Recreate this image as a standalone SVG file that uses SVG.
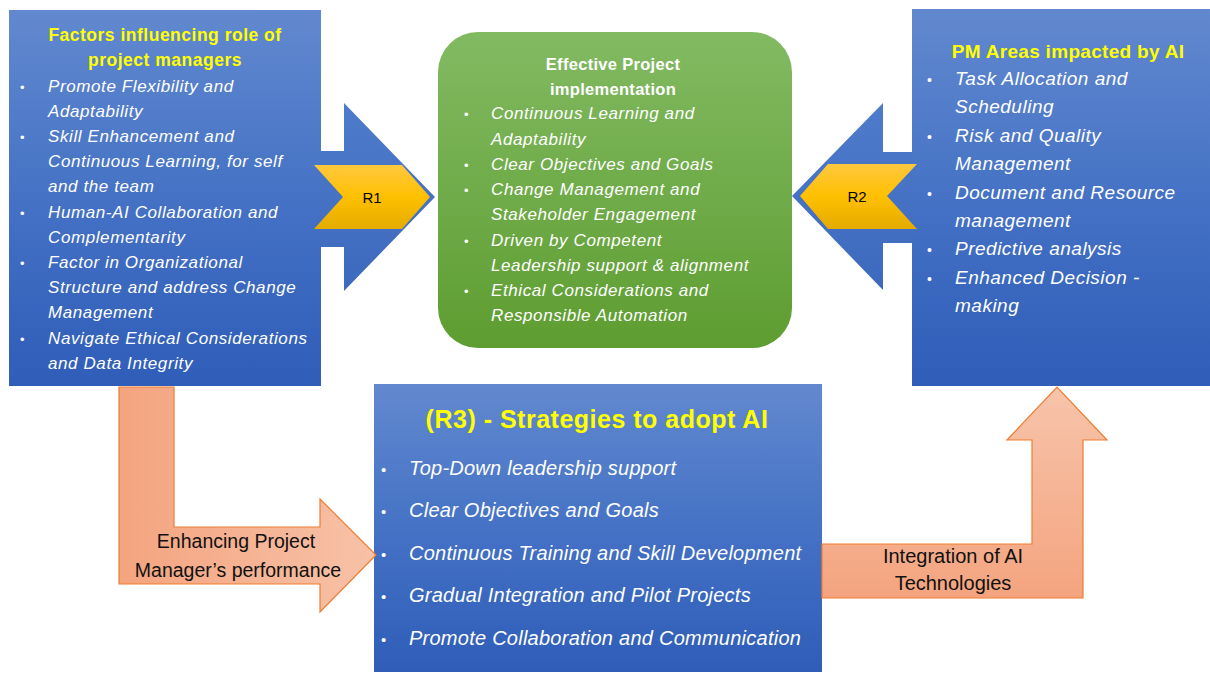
<svg xmlns="http://www.w3.org/2000/svg" width="1210" height="673" viewBox="0 0 1210 673">
<defs>
<linearGradient id="gBlue" x1="0" y1="0" x2="0" y2="1">
<stop offset="0" stop-color="#6289CF"/><stop offset="0.5" stop-color="#4572C5"/><stop offset="1" stop-color="#2F5DB8"/>
</linearGradient>
<linearGradient id="gArrowBlue" x1="0" y1="0" x2="0" y2="1">
<stop offset="0" stop-color="#4F7BCB"/><stop offset="1" stop-color="#3D69BE"/>
</linearGradient>
<linearGradient id="gGreen" x1="0" y1="0" x2="0" y2="1">
<stop offset="0" stop-color="#82BA62"/><stop offset="1" stop-color="#5E9D31"/>
</linearGradient>
<linearGradient id="gYellow" x1="0" y1="0" x2="0" y2="1">
<stop offset="0" stop-color="#FFC83F"/><stop offset="0.5" stop-color="#FFC000"/><stop offset="1" stop-color="#E4AB00"/>
</linearGradient>
<linearGradient id="gOrangeH" x1="0" y1="0" x2="1" y2="0">
<stop offset="0" stop-color="#F4A47F"/><stop offset="1" stop-color="#F7C2A8"/>
</linearGradient>
<linearGradient id="gOrangeV" x1="0" y1="1" x2="0" y2="0">
<stop offset="0" stop-color="#F4A47F"/><stop offset="1" stop-color="#F7C4AB"/>
</linearGradient>
<style>
.ttl{font-family:"Liberation Sans",Arial,sans-serif;font-weight:bold;fill:#FFFF00;text-anchor:middle}
.it{font-family:"Liberation Sans",Arial,sans-serif;font-style:italic;fill:#FFFFFF}
.bul{font-family:"Liberation Sans",Arial,sans-serif;fill:#FFFFFF}
.s17{font-size:17px;letter-spacing:0.6px}
.s19{font-size:19px;letter-spacing:0.5px}
.s20{font-size:20px;letter-spacing:0.25px}
.lbl{font-family:"Liberation Sans",Arial,sans-serif;fill:#111111;text-anchor:middle}
.orange{stroke:#ED7D31;stroke-width:1.2}
</style>
</defs>
<rect width="1210" height="673" fill="#FFFFFF"/>

<g id="node-factors">
<rect x="9" y="10" width="312" height="376" fill="url(#gBlue)"/>
<text class="ttl" x="165" y="41" font-size="17.5" letter-spacing="0.5">Factors influencing role of</text>
<text class="ttl" x="165" y="66" font-size="17.5" letter-spacing="0.5">project managers</text>
<g class="bul" font-size="13">
<text x="20" y="92">•</text><text x="20" y="142">•</text><text x="20" y="218">•</text><text x="20" y="268">•</text><text x="20" y="344">•</text>
</g>
<g class="it s17">
<text x="48" y="92">Promote Flexibility and</text>
<text x="48" y="117">Adaptability</text>
<text x="48" y="142">Skill Enhancement and</text>
<text x="48" y="167">Continuous Learning, for self</text>
<text x="48" y="192">and the team</text>
<text x="48" y="218">Human-AI Collaboration and</text>
<text x="48" y="243">Complementarity</text>
<text x="48" y="268">Factor in Organizational</text>
<text x="48" y="293">Structure and address Change</text>
<text x="48" y="318">Management</text>
<text x="48" y="344">Navigate Ethical Considerations</text>
<text x="48" y="369">and Data Integrity</text>
</g>
</g>

<g id="node-effective">
<rect x="438" y="32" width="354" height="316" rx="40" ry="40" fill="url(#gGreen)"/>
<text x="613" y="70" font-family="Liberation Sans, Arial, sans-serif" font-weight="bold" font-size="16.5" fill="#FFFFFF" text-anchor="middle" letter-spacing="0.3">Effective Project</text>
<text x="613" y="95" font-family="Liberation Sans, Arial, sans-serif" font-weight="bold" font-size="16.5" fill="#FFFFFF" text-anchor="middle" letter-spacing="0.3">implementation</text>
<g class="bul" font-size="13">
<text x="464" y="119">•</text><text x="464" y="170">•</text><text x="464" y="195">•</text><text x="464" y="246">•</text><text x="464" y="296">•</text>
</g>
<g class="it s17">
<text x="491" y="119">Continuous Learning and</text>
<text x="491" y="145">Adaptability</text>
<text x="491" y="170">Clear Objectives and Goals</text>
<text x="491" y="195">Change Management and</text>
<text x="491" y="220">Stakeholder Engagement</text>
<text x="491" y="246">Driven by Competent</text>
<text x="491" y="271">Leadership support &amp; alignment</text>
<text x="491" y="296">Ethical Considerations and</text>
<text x="491" y="321">Responsible Automation</text>
</g>
</g>

<g id="node-pm-areas">
<rect x="912" y="9" width="298" height="377" fill="url(#gBlue)"/>
<text class="ttl" x="1068" y="58" font-size="19" letter-spacing="0.3">PM Areas impacted by AI</text>
<g class="bul" font-size="14">
<text x="927" y="85">•</text><text x="927" y="142">•</text><text x="927" y="199">•</text><text x="927" y="255">•</text><text x="927" y="284">•</text>
</g>
<g class="it s19">
<text x="955" y="85">Task Allocation and</text>
<text x="955" y="113">Scheduling</text>
<text x="955" y="142">Risk and Quality</text>
<text x="955" y="170">Management</text>
<text x="955" y="199">Document and Resource</text>
<text x="955" y="227">management</text>
<text x="955" y="255">Predictive analysis</text>
<text x="955" y="284">Enhanced Decision -</text>
<text x="955" y="312">making</text>
</g>
</g>

<g id="node-strategies">
<rect x="374" y="384" width="448" height="288" fill="url(#gBlue)"/>
<text class="ttl" x="597" y="428" font-size="25" letter-spacing="0.5">(R3) - Strategies to adopt AI</text>
<g class="bul" font-size="15">
<text x="381" y="475">•</text><text x="381" y="517">•</text><text x="381" y="560">•</text><text x="381" y="602">•</text><text x="381" y="645">•</text>
</g>
<g class="it s20">
<text x="409" y="475">Top-Down leadership support</text>
<text x="409" y="517">Clear Objectives and Goals</text>
<text x="409" y="560">Continuous Training and Skill Development</text>
<text x="409" y="602">Gradual Integration and Pilot Projects</text>
<text x="409" y="645">Promote Collaboration and Communication</text>
</g>
</g>

<g id="connectors">
<g id="conn-r1">
<path d="M321,151 H344 V103 L435,197 L344,291 V247 H321 Z" fill="url(#gArrowBlue)"/>
<path d="M314,165 H402 L430,197 L402,229 H314 L343,197 Z" fill="url(#gYellow)"/>
<text x="372" y="203" font-family="Liberation Sans, Arial, sans-serif" font-size="15" fill="#000000" text-anchor="middle">R1</text>
</g>
<g id="conn-r2">
<path d="M912,152 H883 V103 L792,196 L883,290 V243 H912 Z" fill="url(#gArrowBlue)"/>
<path d="M917,164 H828 L800,196 L828,229 H917 L887,196 Z" fill="url(#gYellow)"/>
<text x="857" y="202" font-family="Liberation Sans, Arial, sans-serif" font-size="15" fill="#000000" text-anchor="middle">R2</text>
</g>
<g id="conn-enhancing">
<path class="orange" d="M119,387 H174 V527 H320 V499 L376,555 L320,612 V584 H119 Z" fill="url(#gOrangeH)"/>
<text class="lbl" x="236" y="548" font-size="19.5">Enhancing Project</text>
<text class="lbl" x="238" y="577" font-size="19.5">Manager’s performance</text>
</g>
<g id="conn-integration">
<path class="orange" d="M822,544 H1032 V440 H1007 L1057,387 L1107,440 H1083 V598 H822 Z" fill="url(#gOrangeV)"/>
<text class="lbl" x="953" y="563" font-size="20">Integration of AI</text>
<text class="lbl" x="953" y="590" font-size="20">Technologies</text>
</g>
</g>
</svg>
